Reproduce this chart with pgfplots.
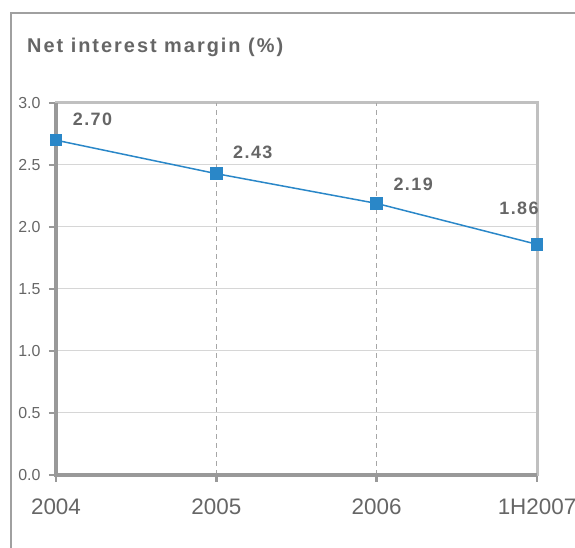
\documentclass[border=0pt]{standalone}
\usepackage{fontspec}
\setmainfont{Liberation Sans}
\newfontfamily\widesans[LetterSpace=8]{Liberation Sans}
\newfontfamily\titlesans[LetterSpace=10]{Liberation Sans}
\usepackage{pgfplots}
\usepackage{pgfplotstable}
\pgfplotsset{compat=1.18}

\definecolor{framec}{HTML}{A0A0A0}
\definecolor{axdark}{HTML}{999999}
\definecolor{axlight}{HTML}{C0C0C0}
\definecolor{gridc}{HTML}{D6D6D6}
\definecolor{dashc}{HTML}{A6A6A6}
\definecolor{txt}{HTML}{666666}
\definecolor{series}{HTML}{2A87C8}

% net interest margin by period; dx/dy place each value label
\pgfplotstableread{
x y    dx    dy
0 2.70 36.5  20.5
1 2.43 36.5  21.5
2 2.19 36.5  19
3 1.86 -18   36
}\nimdata

\begin{document}
\begin{tikzpicture}[x=1bp,y=1bp]
\useasboundingbox (0,0) rectangle (575,548);
\draw[framec, line width=2bp] (11,0) -- (11,535) -- (576,535);
\node[anchor=base west, text=txt, inner sep=0,
      font=\titlesans\bfseries\fontsize{20}{23}\selectfont] at (27,495)
      {Net interest margin (\%)};
\begin{axis}[
  at={(56bp,73bp)}, anchor=south west,
  scale only axis, width=481bp, height=372bp,
  xmin=0, xmax=3, ymin=0, ymax=3,
  clip=false,
  xtick={0,1,2,3}, xticklabels={2004,2005,2006,1H2007},
  ytick={0,0.5,1,1.5,2,2.5,3},
  /pgf/number format/assume math mode=true,
  yticklabel={\pgfmathprintnumber[fixed,fixed zerofill,precision=1]{\tick}},
  tick pos=left, tick align=outside,
  major tick length=7bp,
  every tick/.style={axdark, line width=2.5bp},
  axis line style={axlight, line width=3bp},
  ymajorgrids,
  major grid style={gridc, line width=1bp},
  yticklabel style={text=txt, font=\fontsize{16}{18}\selectfont, xshift=-5bp},
  xticklabel style={text=txt, font=\fontsize{22.5}{25}\selectfont, yshift=-13bp},
]
\draw[dashc, line width=1bp, dash pattern=on 5bp off 4bp]
  (axis cs:1,0) -- (axis cs:1,3)
  (axis cs:2,0) -- (axis cs:2,3);
\draw[axdark, line width=3.5bp]
  (rel axis cs:0,1) -- (rel axis cs:0,0) -- (rel axis cs:1,0);
\addplot[series, line width=1.5bp, mark=square*, mark size=5.5bp,
  mark options={fill=series, draw=series},
  visualization depends on={\thisrow{dx}\as\labdx},
  visualization depends on={\thisrow{dy}\as\labdy},
  point meta=y,
  nodes near coords={\pgfmathprintnumber[fixed,fixed zerofill,precision=2]{\pgfplotspointmeta}},
  every node near coord/.append style={anchor=center, inner sep=0,
    xshift=\labdx bp, yshift=\labdy bp, text=txt,
    font=\widesans\bfseries\fontsize{18}{20}\selectfont},
] table[x=x, y=y] {\nimdata};
\end{axis}
\end{tikzpicture}
\end{document}
